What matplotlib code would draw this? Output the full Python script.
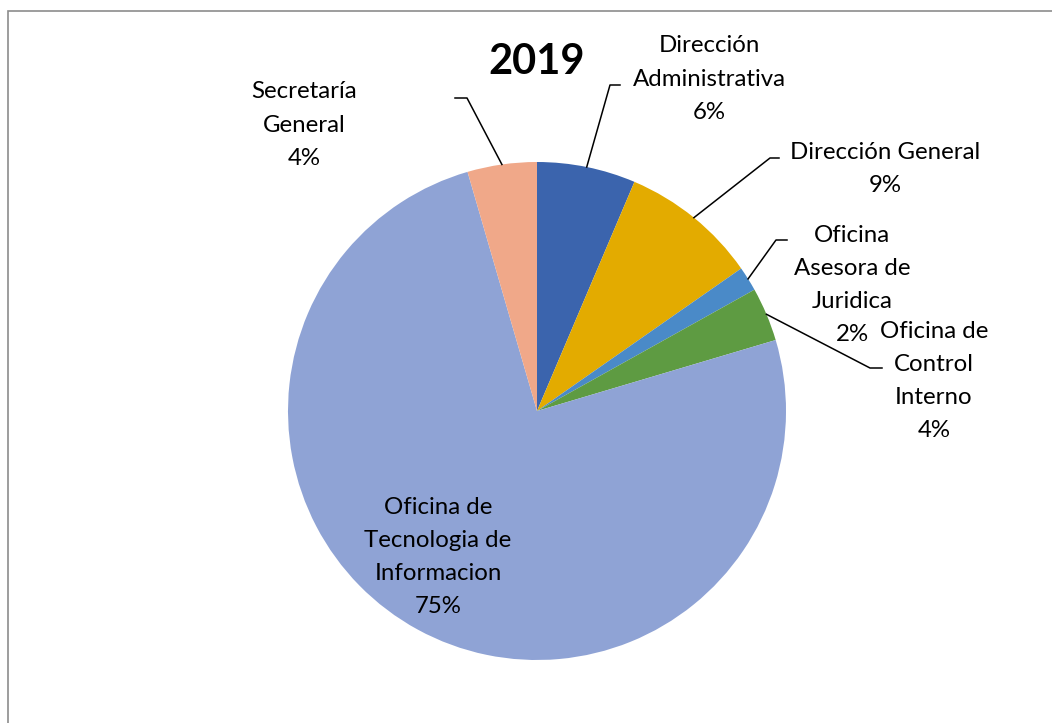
import numpy as np
import matplotlib
matplotlib.use("Agg")
import matplotlib.pyplot as plt
from matplotlib.patches import Rectangle

plt.rcParams['font.family'] = ['Lato', 'DejaVu Sans']

# Data (clockwise from 12 o'clock)
categories = ["Dirección\nAdministrativa", "Dirección General", "Oficina\nAsesora de\nJuridica",
              "Oficina de\nControl\nInterno", "Oficina de\nTecnologia de\nInformacion", "Secretaría\nGeneral"]
values = [6.4, 8.9, 1.6, 3.5, 75.1, 4.5]
pct_labels = ["6%", "9%", "2%", "4%", "75%", "4%"]
colors = ["#3B64AD", "#E3AB00", "#4A8AC8", "#5E9B42", "#8FA3D5", "#F0A889"]
title = "2019"

W, H = 1052, 723
fig = plt.figure(figsize=(W / 100, H / 100), dpi=100)
ax = fig.add_axes([0, 0, 1, 1])
cx, cy, R = 537, 411, 249

def px(x, y):
    return ((x - cx) / R, (cy - y) / R)

wedges, _ = ax.pie(values, colors=colors, startangle=90, counterclock=False,
                   radius=1, center=(0, 0), frame=True,
                   wedgeprops=dict(linewidth=0))
ax.set_xlim(-cx / R, (W - cx) / R)
ax.set_ylim((cy - H) / R, cy / R)
ax.set_aspect('auto')
ax.axis('off')

# frame border (left and top visible)
fig.patches.append(Rectangle((8 / W, -0.1), 1.2, (H - 11) / H + 0.1, transform=fig.transFigure,
                             fill=False, edgecolor="#8c8c8c", linewidth=1.2))

fs = 17.3
# label text positions (pixel centers) and elbow points
label_pos = [(709, 79), (885, 169), (852, 285), (934, 381), (438, 557), (304, 125)]
elbows = [((610, 85), (620, 85)), ((770, 158), (779, 158)), ((776, 240), (787, 240)),
          ((870, 368), (882, 368)), None, ((467, 98), (455, 98))]

cum = np.cumsum([0] + values)
tot = sum(values)
for i, w in enumerate(wedges):
    mid = 90 - (cum[i] + values[i] / 2) / tot * 360
    ex, ey = np.cos(np.radians(mid)), np.sin(np.radians(mid))
    lx, ly = px(*label_pos[i])
    ax.text(lx, ly, categories[i] + "\n" + pct_labels[i], ha='center', va='center',
            fontsize=fs, linespacing=1.72, color='black')
    if elbows[i] is not None:
        (ax1, ay1), (ax2, ay2) = elbows[i]
        p1 = px(ax1, ay1)
        p2 = px(ax2, ay2)
        ax.plot([ex, p1[0], p2[0]], [ey, p1[1], p2[1]], color='black', linewidth=1.1)

tx, ty = px(537, 62)
ax.text(tx, ty, title, ha='center', va='center', fontsize=30, fontweight='bold', color='black')

fig.savefig("out.png", dpi=100, facecolor='white')
